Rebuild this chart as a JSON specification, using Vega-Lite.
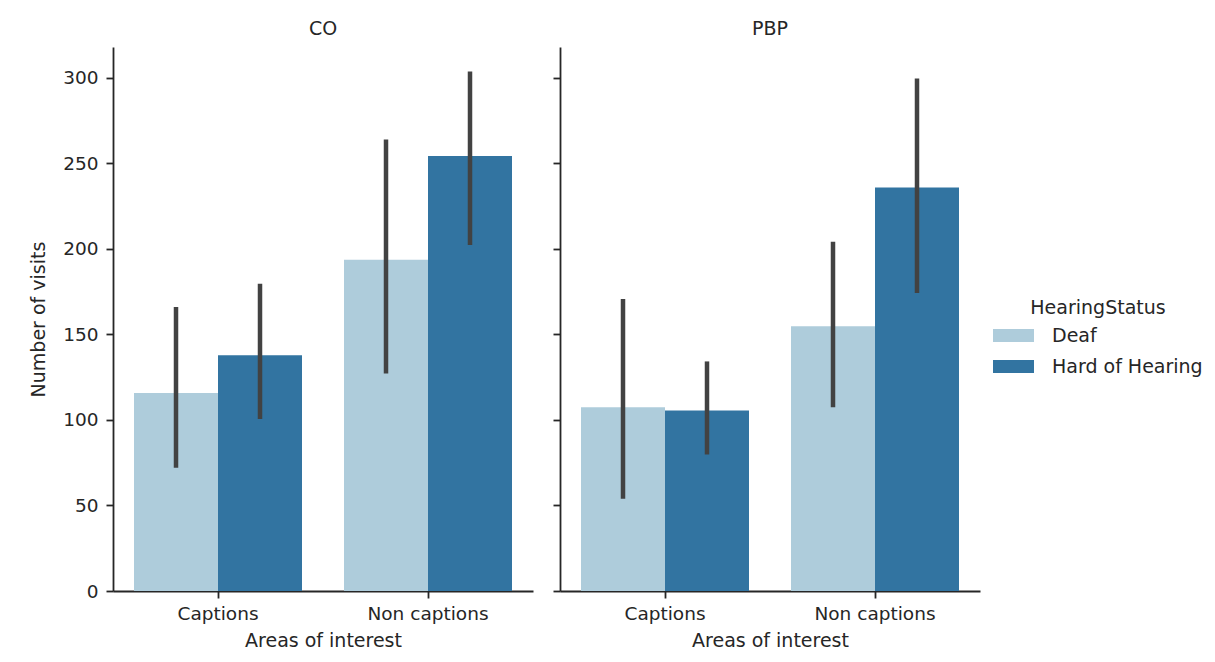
{
  "$schema": "https://vega.github.io/schema/vega-lite/v6.json",
  "padding": {"left": 29, "top": 20, "right": 5, "bottom": 5},
  "background": "white",
  "config": {
    "font": "DejaVu Sans",
    "view": {"stroke": null},
    "concat": {"spacing": 19},
    "axis": {
      "domainColor": "#262626",
      "domainWidth": 1.8,
      "tickColor": "#262626",
      "tickWidth": 1.8,
      "tickSize": 7,
      "labelFontSize": 18.5,
      "labelColor": "#262626",
      "titleFontSize": 19,
      "titleFontWeight": "normal",
      "titleColor": "#262626",
      "grid": false
    },
    "title": {"fontSize": 19, "fontWeight": "normal", "color": "#262626", "offset": 8},
    "legend": {
      "titleFontSize": 19,
      "titleFontWeight": "normal",
      "titleColor": "#262626",
      "labelFontSize": 19,
      "labelColor": "#262626"
    }
  },
  "data": {
    "values": [
      {"panel": "CO", "area": "Captions", "status": "Deaf", "mean": 115.8, "lo": 72.0, "hi": 166.0},
      {"panel": "CO", "area": "Captions", "status": "Hard of Hearing", "mean": 137.8, "lo": 100.6, "hi": 179.6},
      {"panel": "CO", "area": "Non captions", "status": "Deaf", "mean": 193.6, "lo": 127.1, "hi": 264.0},
      {"panel": "CO", "area": "Non captions", "status": "Hard of Hearing", "mean": 254.3, "lo": 202.2, "hi": 303.7},
      {"panel": "PBP", "area": "Captions", "status": "Deaf", "mean": 107.4, "lo": 53.9, "hi": 170.7},
      {"panel": "PBP", "area": "Captions", "status": "Hard of Hearing", "mean": 105.5, "lo": 79.8, "hi": 134.2},
      {"panel": "PBP", "area": "Non captions", "status": "Deaf", "mean": 154.7, "lo": 107.4, "hi": 204.1},
      {"panel": "PBP", "area": "Non captions", "status": "Hard of Hearing", "mean": 235.8, "lo": 174.2, "hi": 299.6}
    ]
  },
  "hconcat": [
    {
      "title": {"text": "CO"},
      "width": 420,
      "height": 544,
      "transform": [{"filter": "datum.panel === 'CO'"}],
      "encoding": {
        "x": {"field": "area", "type": "nominal", "sort": ["Captions", "Non captions"],
              "scale": {"paddingInner": 0.2, "paddingOuter": 0.1},
              "axis": {"title": "Areas of interest", "labelAngle": 0, "labelPadding": 6, "titlePadding": 9}},
        "xOffset": {"field": "status", "type": "nominal", "sort": ["Deaf", "Hard of Hearing"],
                    "scale": {"paddingInner": 0, "paddingOuter": 0}}
      },
      "layer": [
        {
          "mark": {"type": "bar"},
          "encoding": {
            "y": {"field": "mean", "type": "quantitative", "scale": {"domain": [0, 318], "nice": false},
                  "axis": {"title": "Number of visits", "values": [0, 50, 100, 150, 200, 250, 300], "labelPadding": 8, "titlePadding": 14}},
            "color": {"field": "status", "type": "nominal", "sort": ["Deaf", "Hard of Hearing"],
                      "scale": {"domain": ["Deaf", "Hard of Hearing"], "range": ["#aeccdb", "#3274a1"]},
                      "legend": {"title": "HearingStatus", "orient": "none", "legendX": 880, "legendY": 252,
                                 "titleAnchor": "middle", "symbolType": "M-1,-0.32H1V0.32H-1Z", "symbolSize": 1681,
                                 "symbolStrokeWidth": 0, "labelOffset": 18, "rowPadding": -16, "titlePadding": -3, "padding": 0}}
          }
        },
        {
          "mark": {"type": "rule", "color": "#424242", "strokeWidth": 4.5},
          "encoding": {
            "y": {"field": "lo", "type": "quantitative"},
            "y2": {"field": "hi"}
          }
        }
      ]
    },
    {
      "title": {"text": "PBP"},
      "width": 420,
      "height": 544,
      "transform": [{"filter": "datum.panel === 'PBP'"}],
      "encoding": {
        "x": {"field": "area", "type": "nominal", "sort": ["Captions", "Non captions"],
              "scale": {"paddingInner": 0.2, "paddingOuter": 0.1},
              "axis": {"title": "Areas of interest", "labelAngle": 0, "labelPadding": 6, "titlePadding": 9}},
        "xOffset": {"field": "status", "type": "nominal", "sort": ["Deaf", "Hard of Hearing"],
                    "scale": {"paddingInner": 0, "paddingOuter": 0}}
      },
      "layer": [
        {
          "mark": {"type": "bar"},
          "encoding": {
            "y": {"field": "mean", "type": "quantitative", "scale": {"domain": [0, 318], "nice": false},
                  "axis": {"title": null, "labels": false, "values": [0, 50, 100, 150, 200, 250, 300]}},
            "color": {"field": "status", "type": "nominal", "sort": ["Deaf", "Hard of Hearing"],
                      "scale": {"domain": ["Deaf", "Hard of Hearing"], "range": ["#aeccdb", "#3274a1"]}}
          }
        },
        {
          "mark": {"type": "rule", "color": "#424242", "strokeWidth": 4.5},
          "encoding": {
            "y": {"field": "lo", "type": "quantitative"},
            "y2": {"field": "hi"}
          }
        }
      ]
    }
  ],
  "resolve": {"scale": {"y": "shared", "color": "shared"}}
}
